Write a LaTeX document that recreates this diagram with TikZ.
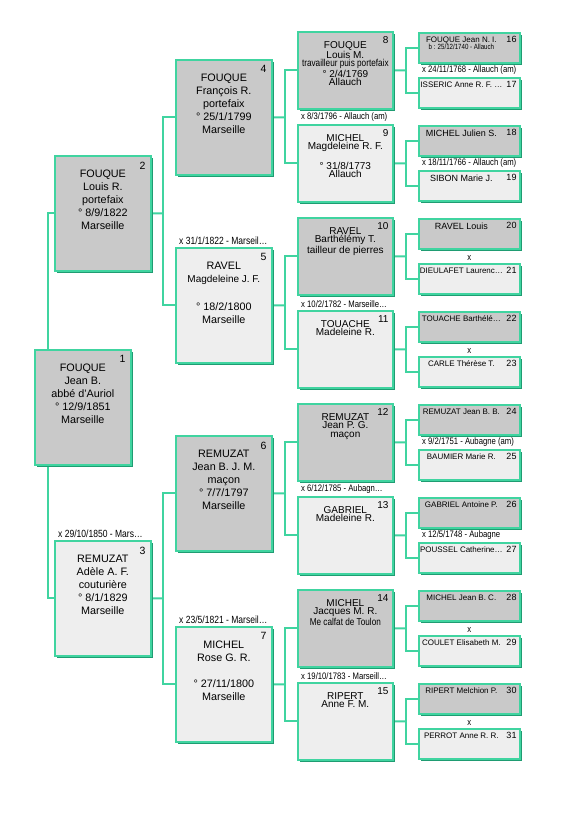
\documentclass[tikz,border=0pt]{standalone}
\usepackage{fontspec}
\setmainfont{Liberation Sans}
\newfontfamily\narrowfont{Liberation Sans}[FakeStretch=0.82]
\usetikzlibrary{calc, shadows, backgrounds}
\definecolor{cardline}{HTML}{40D4A0}
\definecolor{cardshadow}{HTML}{1F9C72}
\definecolor{malefill}{HTML}{C9C9C9}
\definecolor{femalefill}{HTML}{EEEEEE}
\tikzset{
  card/.style={draw=cardline, line width=1.7pt, inner sep=0pt, anchor=north west,
    drop shadow={shadow xshift=2.5pt, shadow yshift=-2.5pt, fill=cardshadow, opacity=1}},
  male/.style={card, fill=malefill},
  female/.style={card, fill=femalefill},
  bigcard/.style={minimum width=96pt, minimum height=115pt},
  midcard/.style={minimum width=95pt, minimum height=77pt},
  smallcard/.style={minimum width=101pt, minimum height=30pt},
  bigtext/.style={anchor=north, yshift=-15pt, align=center, inner sep=0pt, font=\fontsize{10.8}{13}\selectfont},
  midtext/.style={anchor=north, yshift=-10pt, align=center, inner sep=0pt, font=\fontsize{10}{8.6}\selectfont},
  smalltext/.style={anchor=north, xshift=-8pt, yshift=-4.5pt, align=center, inner sep=0pt, font=\fontsize{8}{7.5}\selectfont},
  numlabel/.style={anchor=north east, inner sep=0pt},
  bignum/.style={numlabel, xshift=-6pt, yshift=-6.5pt, font=\fontsize{10.5}{10}\selectfont},
  midnum/.style={numlabel, xshift=-5pt, yshift=-5pt, font=\fontsize{10}{10}\selectfont},
  smallnum/.style={numlabel, xshift=-4pt, yshift=-4.5pt, font=\fontsize{9}{9}\selectfont},
  wedding/.style={anchor=south west, inner sep=0pt, xshift=4pt, yshift=2pt, font=\narrowfont\fontsize{9.4}{9}\selectfont},
  bigwedding/.style={font=\narrowfont\fontsize{10.4}{10}\selectfont},
  link/.style={draw=cardline, line width=1.8pt},
}
\newcommand{\person}[6]{%
  \node[#2, #3card] (p#1) at (#4,#5) {};
  \node[#3text] (p#1-txt) at (p#1.north) {#6};
  \node[#3num] (p#1-num) at (p#1.north east) {#1};
}
\newcommand{\marriage}[3][]{%
  \node[wedding, #1] (w#2) at (p#2.north west) {#3};
}
\newcommand{\marriagex}[1]{%
  \node[wedding, anchor=south, xshift=-4pt] (w#1) at (p#1.north) {x};
}

\begin{document}
\begin{tikzpicture}[x=1pt, y=-1pt]
  \path[use as bounding box] (0,0) rectangle (577,816);

  % 1st and 2nd generation
  \person{1}{male}{big}{34}{349}{FOUQUE\\Jean B.\\abbé d'Auriol\\° 12/9/1851\\Marseille}
  \person{2}{male}{big}{54}{155}{FOUQUE\\Louis R.\\portefaix\\° 8/9/1822\\Marseille}
  \person{3}{female}{big}{54}{540}{REMUZAT\\Adèle A. F.\\couturière\\° 8/1/1829\\Marseille}
  \marriage[bigwedding]{3}{x 29/10/1850 - Mars…}

  % 3rd generation
  \person{4}{male}{big}{175}{59}{FOUQUE\\François R.\\portefaix\\° 25/1/1799\\Marseille}
  \person{5}{female}{big}{175}{247}{RAVEL\\{\fontsize{10}{13}\selectfont Magdeleine J. F.}\\[15pt]° 18/2/1800\\Marseille}
  \person{6}{male}{big}{175}{435}{REMUZAT\\Jean B. J. M.\\maçon\\° 7/7/1797\\Marseille}
  \person{7}{female}{big}{175}{626}{MICHEL\\Rose G. R.\\[13pt]° 27/11/1800\\Marseille}
  \marriage[bigwedding]{5}{x 31/1/1822 - Marseil…}
  \marriage[bigwedding]{7}{x 23/5/1821 - Marseil…}

  % 4th generation
  \person{8}{male}{mid}{297}{31}{FOUQUE\\Louis M.\\{\narrowfont travailleur puis portefaix}\\° 2/4/1769\\Allauch}
  \person{9}{female}{mid}{297}{124}{MICHEL\\Magdeleine R. F.\\[9pt]° 31/8/1773\\Allauch}
  \person{10}{male}{mid}{297}{217}{RAVEL\\Barthélémy T.\\tailleur de pierres}
  \person{11}{female}{mid}{297}{310}{TOUACHE\\Madeleine R.}
  \person{12}{male}{mid}{297}{403}{REMUZAT\\Jean P. G.\\maçon}
  \person{13}{female}{mid}{297}{496}{GABRIEL\\Madeleine R.}
  \person{14}{male}{mid}{297}{589}{MICHEL\\Jacques M. R.\\{\narrowfont Me calfat de Toulon}}
  \person{15}{female}{mid}{297}{682}{RIPERT\\Anne F. M.}
  \marriage{9}{x 8/3/1796 - Allauch (am)}
  \marriage{11}{x 10/2/1782 - Marseille…}
  \marriage{13}{x 6/12/1785 - Aubagn…}
  \marriage{15}{x 19/10/1783 - Marseill…}

  % 5th generation
  \person{16}{male}{small}{418}{32}{FOUQUE Jean N. I.\\{\narrowfont\fontsize{7.5}{7.5}\selectfont b : 25/12/1740 - Allauch}}
  \person{17}{female}{small}{418}{77}{ISSERIC Anne R. F. …}
  \person{18}{male}{small}{418}{125}{{\fontsize{9}{9}\selectfont MICHEL Julien S.}}
  \person{19}{female}{small}{418}{170}{{\fontsize{9}{9}\selectfont SIBON Marie J.}}
  \person{20}{male}{small}{418}{218}{{\fontsize{9}{9}\selectfont RAVEL Louis}}
  \person{21}{female}{small}{418}{263}{DIEULAFET Laurenc…}
  \person{22}{male}{small}{418}{311}{TOUACHE Barthélé…}
  \person{23}{female}{small}{418}{356}{CARLE Thérèse T.}
  \person{24}{male}{small}{418}{404}{REMUZAT Jean B. B.}
  \person{25}{female}{small}{418}{449}{BAUMIER Marie R.}
  \person{26}{male}{small}{418}{497}{GABRIEL Antoine P.}
  \person{27}{female}{small}{418}{542}{POUSSEL Catherine…}
  \person{28}{male}{small}{418}{590}{MICHEL Jean B. C.}
  \person{29}{female}{small}{418}{635}{COULET Elisabeth M.}
  \person{30}{male}{small}{418}{683}{RIPERT Melchion P.}
  \person{31}{female}{small}{418}{728}{PERROT Anne R. R.}
  \marriage{17}{x 24/11/1768 - Allauch (am)}
  \marriage{19}{x 18/11/1766 - Allauch (am)}
  \marriagex{21}
  \marriagex{23}
  \marriage{25}{x 9/2/1751 - Aubagne (am)}
  \marriage{27}{x 12/5/1748 - Aubagne}
  \marriagex{29}
  \marriagex{31}

  % links, behind the cards (white page first)
  \begin{pgfonlayer}{background}
    \fill[white] (0,0) rectangle (577,816);
    \draw[link] (p2.west) -- ++(-6,0) |- (p3.west);
    \foreach \c in {2,...,15} {
      \pgfmathtruncatemacro{\f}{2*\c}
      \pgfmathtruncatemacro{\m}{2*\c+1}
      \coordinate (j\c) at ($(p\c.east)!.5!(p\c.east -| p\f.west)$);
      \draw[link] (p\c.east) -- (j\c);
      \draw[link] (p\f.west) -| (j\c) |- (p\m.west);
    }
  \end{pgfonlayer}
\end{tikzpicture}
\end{document}
